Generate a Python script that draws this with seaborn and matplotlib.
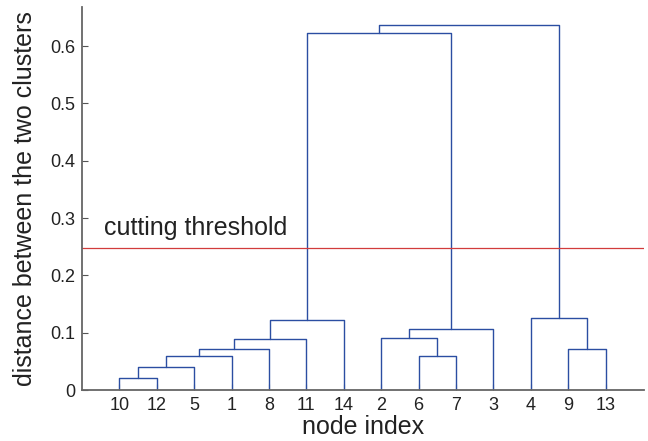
import numpy as np
import pandas as pd
import matplotlib
matplotlib.use("Agg")
import matplotlib.pyplot as plt
import seaborn as sns

# leaf order along the x axis
leaf_order = [10, 12, 5, 1, 8, 11, 14, 2, 6, 7, 3, 4, 9, 13]
# merges (MATLAB style ids: new clusters numbered 15, 16, ...)
merge_a = [10, 15, 16, 17, 18, 19, 6, 2, 22, 9, 4, 20, 26]
merge_b = [12, 5, 1, 8, 11, 14, 7, 21, 3, 13, 24, 23, 25]
merge_h = [0.021, 0.041, 0.060, 0.071, 0.089, 0.123, 0.060, 0.090, 0.107,
           0.071, 0.125, 0.622, 0.636]
threshold = 0.248
yticks = [0, 0.1, 0.2, 0.3, 0.4, 0.5, 0.6]

sns.set_style("ticks")
plt.rcParams["font.family"] = ["Liberation Sans", "DejaVu Sans"]

n = len(leaf_order)
xpos = {leaf: i + 1 for i, leaf in enumerate(leaf_order)}
ypos = {leaf: 0.0 for leaf in leaf_order}

# build U-shaped link segments
rows = []
for k, (a, b, h) in enumerate(zip(merge_a, merge_b, merge_h)):
    cid = n + 1 + k
    xa, xb = xpos[a], xpos[b]
    for px, py in [(xa, ypos[a]), (xa, h), (xb, h), (xb, ypos[b])]:
        rows.append({"link": cid, "x": px, "y": py})
    xpos[cid] = (xa + xb) / 2
    ypos[cid] = h
df = pd.DataFrame(rows)

fig = plt.figure(figsize=(6.48, 4.41), dpi=100)
ax = fig.add_axes([0.1265, 0.1156, 0.8675, 0.8684])

sns.lineplot(data=df, x="x", y="y", units="link", estimator=None, sort=False,
             color="#2b4ea2", linewidth=1.0, ax=ax)
ax.axhline(threshold, color="#d23c3c", linewidth=0.9)
ax.text(0.6, threshold + 0.022, "cutting threshold", fontsize=18,
        color="#222222")

ax.set_xlim(0, 15.03)
ax.set_ylim(0, 0.668)
ax.set_xticks(range(1, n + 1))
ax.set_xticklabels([str(v) for v in leaf_order])
ax.set_yticks(yticks)
ax.set_yticklabels(["0"] + [f"{v:.1f}" for v in yticks[1:]])
ax.tick_params(direction="in", length=4, width=0.8, colors="#555555",
               labelcolor="#222222", labelsize=13, pad=5)
ax.set_xlabel("node index", fontsize=18, color="#222222", labelpad=1)
ax.set_ylabel("distance between the two clusters", fontsize=18,
              color="#222222", labelpad=9)
sns.despine(ax=ax)
for s in ["left", "bottom"]:
    ax.spines[s].set_color("#666666")
    ax.spines[s].set_linewidth(1.3)

fig.savefig("out.png", dpi=100)
